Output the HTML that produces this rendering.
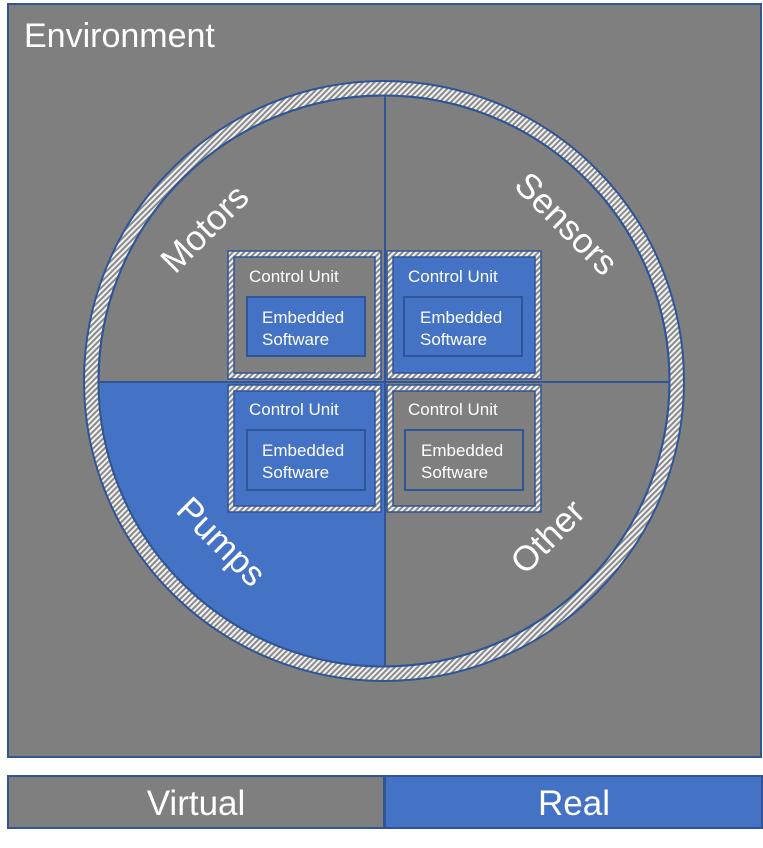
<!DOCTYPE html>
<html><head><meta charset="utf-8"><style>
html,body{margin:0;padding:0;background:#fff;width:763px;height:848px;overflow:hidden}
svg{display:block}
text{font-family:"Liberation Sans",sans-serif;fill:#fff}
</style></head><body>
<svg width="763" height="848" viewBox="0 0 763 848" xmlns="http://www.w3.org/2000/svg">
<defs>
<pattern id="h" width="4" height="4" patternUnits="userSpaceOnUse" patternTransform="rotate(45)">
<rect width="4" height="4" fill="#8a8a8a"/><rect width="2" height="4" fill="#f2f2f2"/>
</pattern>
<clipPath id="c"><circle cx="385" cy="382" r="285"/></clipPath>
</defs>
<rect x="8" y="4" width="753" height="753" fill="#7f7f7f" stroke="#2f5597" stroke-width="2"/>
<text x="24" y="47" font-size="34">Environment</text>
<circle cx="384" cy="381" r="293" fill="none" stroke="url(#h)" stroke-width="15"/>
<circle cx="384" cy="381" r="300" fill="none" stroke="#2f5597" stroke-width="2"/>
<circle cx="384" cy="381" r="285.5" fill="#7f7f7f" stroke="#2f5597" stroke-width="2"/>
<g clip-path="url(#c)">
<rect x="90" y="382" width="295" height="300" fill="#4472c4"/>
</g>
<line x1="385" y1="96" x2="385" y2="666" stroke="#2f5597" stroke-width="2"/>
<line x1="99" y1="382" x2="669" y2="382" stroke="#2f5597" stroke-width="2"/>
<circle cx="384" cy="381" r="285.5" fill="none" stroke="#2f5597" stroke-width="2"/>
<text font-size="35" transform="translate(213,237) rotate(-45)" text-anchor="middle">Motors</text>
<text font-size="35" transform="translate(558,232) rotate(45)" text-anchor="middle">Sensors</text>
<text font-size="35" transform="translate(213,550) rotate(45)" text-anchor="middle">Pumps</text>
<text font-size="35" transform="translate(556,545) rotate(-45)" text-anchor="middle">Other</text>
<g>
<rect x="228" y="251" width="153" height="128" fill="url(#h)" stroke="#2f5597" stroke-width="1.5"/>
<rect x="234" y="257" width="141" height="116" fill="#7f7f7f" stroke="#2f5597" stroke-width="1.5"/>
<text x="249" y="282" font-size="17">Control Unit</text>
<rect x="247" y="297" width="118" height="59" fill="#4472c4" stroke="#2f5597" stroke-width="2"/>
<text x="262" y="323" font-size="17">Embedded</text>
<text x="262" y="345" font-size="17">Software</text>
</g>
<g>
<rect x="387" y="251" width="154" height="128" fill="url(#h)" stroke="#2f5597" stroke-width="1.5"/>
<rect x="393" y="257" width="142" height="116" fill="#4472c4" stroke="#2f5597" stroke-width="1.5"/>
<text x="408" y="282" font-size="17">Control Unit</text>
<rect x="404" y="297" width="118" height="59" fill="#4472c4" stroke="#2f5597" stroke-width="2"/>
<text x="420" y="323" font-size="17">Embedded</text>
<text x="420" y="345" font-size="17">Software</text>
</g>
<g>
<rect x="228" y="385" width="153" height="127" fill="url(#h)" stroke="#2f5597" stroke-width="1.5"/>
<rect x="234" y="391" width="141" height="115" fill="#4472c4" stroke="#2f5597" stroke-width="1.5"/>
<text x="249" y="415" font-size="17">Control Unit</text>
<rect x="247" y="430" width="118" height="60" fill="#4472c4" stroke="#2f5597" stroke-width="2"/>
<text x="262" y="456" font-size="17">Embedded</text>
<text x="262" y="478" font-size="17">Software</text>
</g>
<g>
<rect x="387" y="385" width="154" height="127" fill="url(#h)" stroke="#2f5597" stroke-width="1.5"/>
<rect x="393" y="391" width="142" height="115" fill="#7f7f7f" stroke="#2f5597" stroke-width="1.5"/>
<text x="408" y="415" font-size="17">Control Unit</text>
<rect x="405" y="430" width="118" height="60" fill="#7f7f7f" stroke="#2f5597" stroke-width="2"/>
<text x="421" y="456" font-size="17">Embedded</text>
<text x="421" y="478" font-size="17">Software</text>
</g>
<rect x="8" y="776" width="376" height="52" fill="#7f7f7f" stroke="#2f5597" stroke-width="2"/>
<rect x="385" y="776" width="377" height="52" fill="#4472c4" stroke="#2f5597" stroke-width="2"/>
<text x="196" y="815" font-size="35" text-anchor="middle">Virtual</text>
<text x="574" y="815" font-size="35" text-anchor="middle">Real</text>
</svg>
</body></html>
